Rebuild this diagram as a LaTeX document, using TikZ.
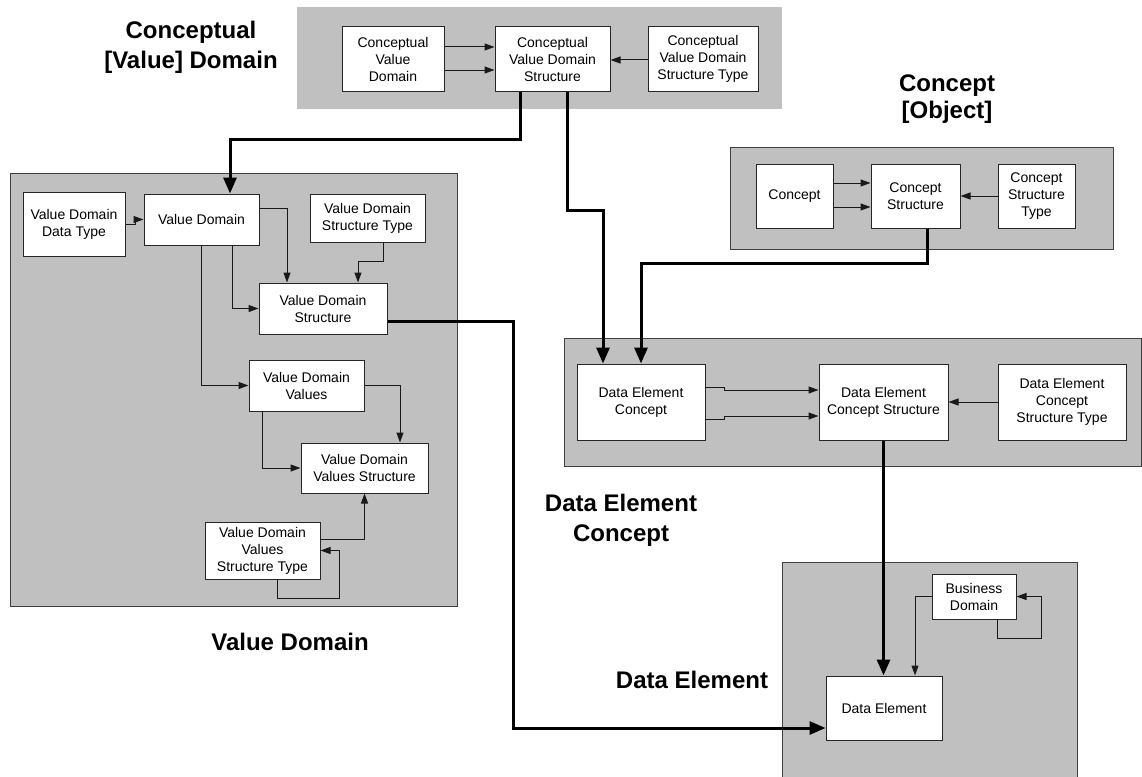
\documentclass[tikz,border=0pt]{standalone}
\usepackage{fontspec}
\setmainfont{Liberation Sans}
\usetikzlibrary{arrows.meta}
\definecolor{panelgray}{HTML}{C0C0C0}
\begin{document}
\begin{tikzpicture}[x=1pt,y=-1pt,
  panel/.style={fill=panelgray, draw=black!75, line width=1pt},
  openpanel/.style={fill=panelgray},
  entity/.style={draw=black!85, fill=white, line width=1pt, inner sep=0pt,
    align=center, font=\fontsize{14}{17}\selectfont},
  link/.style={draw=black!90, line width=1pt, -{Triangle[length=10pt,width=7pt]}},
  plain/.style={draw=black!90, line width=1pt},
  mainlink/.style={line width=3pt, -{Triangle[length=16pt,width=13pt]}},
  heading/.style={font=\fontsize{24}{27}\selectfont\bfseries, inner sep=0pt, anchor=base}]

\useasboundingbox (0,0) rectangle (1142,776);

% group panels
\fill[openpanel] (297,7) rectangle (782,109);
\draw[panel] (730,147) rectangle (1113,249);
\draw[panel] (10,173) rectangle (457,606);
\draw[panel] (564,338) rectangle (1141,466);
\draw[panel] (782,562) rectangle (1077,800);

% group headings
\node[heading] (hcvd1) at (191,38) {Conceptual};
\node[heading] (hcvd2) at (191,69) {[Value] Domain};
\node[heading] (hcon1) at (947,91) {Concept};
\node[heading] (hcon2) at (947,118) {[Object]};
\node[heading] (hdec1) at (621,511) {Data Element};
\node[heading] (hdec2) at (621,541) {Concept};
\node[heading] (hvd) at (290,650) {Value Domain};
\node[heading] (hde) at (692,688) {Data Element};

% conceptual value domain
\node[entity, minimum width=102pt, minimum height=64pt] (cvd) at (393,59) {Conceptual\\Value\\Domain};
\node[entity, minimum width=115pt, minimum height=64pt] (cvds) at (552.5,59) {Conceptual\\Value Domain\\Structure};
\node[entity, minimum width=110pt, minimum height=64pt] (cvdst) at (703,59) {Conceptual\\Value Domain\\Structure Type};

% concept
\node[entity, minimum width=77pt, minimum height=64pt] (con) at (794.5,196) {Concept};
\node[entity, minimum width=89pt, minimum height=64pt] (cons) at (915.5,196) {Concept\\Structure};
\node[entity, minimum width=77pt, minimum height=64pt] (const) at (1036.5,196) {Concept\\Structure\\Type};

% value domain
\node[entity, minimum width=102pt, minimum height=64pt] (vddt) at (74,224) {Value Domain\\Data Type};
\node[entity, minimum width=115pt, minimum height=51pt] (vd) at (201.5,219.5) {Value Domain};
\node[entity, minimum width=115pt, minimum height=48pt] (vdst) at (367.5,218) {Value Domain\\Structure Type};
\node[entity, minimum width=128pt, minimum height=51pt] (vds) at (323,308.5) {Value Domain\\Structure};
\node[entity, minimum width=115pt, minimum height=51pt] (vdv) at (306.5,385.5) {Value Domain\\Values};
\node[entity, minimum width=127pt, minimum height=50pt] (vdvs) at (364.5,468) {Value Domain\\Values Structure};
\node[entity, minimum width=115pt, minimum height=57pt] (vdvst) at (262.5,550.5) {Value Domain\\Values\\Structure Type};

% data element concept
\node[entity, minimum width=128pt, minimum height=76pt] (dec) at (641,402) {Data Element\\Concept};
\node[entity, minimum width=129pt, minimum height=76pt] (decs) at (883.5,402) {Data Element\\Concept Structure};
\node[entity, minimum width=128pt, minimum height=76pt] (decst) at (1062,402) {Data Element\\Concept\\Structure Type};

% data element
\node[entity, minimum width=84pt, minimum height=45pt] (bd) at (974,596.5) {Business\\Domain};
\node[entity, minimum width=116pt, minimum height=64pt] (de) at (884,708) {Data Element};

% links inside the conceptual value domain
\draw[link] ([yshift=12pt]cvd.east) -- ([yshift=12pt]cvds.west);
\draw[link] ([yshift=-11pt]cvd.east) -- ([yshift=-11pt]cvds.west);
\draw[link] ([yshift=-1pt]cvdst.west) -- ([yshift=-1pt]cvds.east);

% links inside the concept
\draw[link] ([yshift=13pt]con.east) -- ([yshift=13pt]cons.west);
\draw[link] ([yshift=-11pt]con.east) -- ([yshift=-11pt]cons.west);
\draw[link] (const.west) -- (cons.east);

% links inside the value domain
\draw[link] (vddt.east) -- ++(10,0) |- (vd.west);
\draw[link] ([yshift=11.5pt]vd.east) -| ([xshift=-36pt]vds.north);
\draw[link] ([xshift=30.5pt]vd.south) |- (vds.west);
\draw[link] (vd.south) |- (vdv.west);
\draw[link] ([xshift=15.5pt]vdst.south) -- ++(0,19) -| ([xshift=35pt]vds.north);
\draw[link] (vdv.east) -| ([xshift=35.5pt]vdvs.north);
\draw[link] ([xshift=-44.5pt]vdv.south) |- (vdvs.west);
\draw[link] ([yshift=11.5pt]vdvst.east) -| (vdvs.south);
\draw[link] ([xshift=14.5pt]vdvst.south) -- ++(0,19) -| ([xshift=19pt]vdvst.east) -- (vdvst.east);

% links inside the data element concept
\draw[link] ([yshift=15pt]dec.east) -- ++(19,0) -- ++(0,3) -- ([yshift=12pt]decs.west);
\draw[link] ([yshift=-17pt]dec.east) -- ++(19,0) -- ++(0,-3) -- ([yshift=-14pt]decs.west);
\draw[link] (decst.west) -- (decs.east);

% links inside the data element
\draw[link] (bd.west) -| ([xshift=31pt]de.north);
\draw[link] ([xshift=23pt]bd.south) -- ++(0,19) -| ([xshift=25pt]bd.east) -- (bd.east);

% links between groups
\draw[mainlink] ([xshift=-32.5pt]cvds.south) -- ++(0,48) -| ([xshift=28.5pt]vd.north);
\draw[mainlink] ([xshift=14.5pt]cvds.south) -- ++(0,119) -| ([xshift=-38pt]dec.north);
\draw[mainlink] ([xshift=11.5pt]cons.south) -- ++(0,35) -| (dec.north);
\draw[mainlink] ([yshift=-12.5pt]vds.east) -- ++(126,0) |- ([yshift=-20pt]de.west);
\draw[mainlink] (decs.south) -- (decs.south |- de.north);
\end{tikzpicture}
\end{document}
